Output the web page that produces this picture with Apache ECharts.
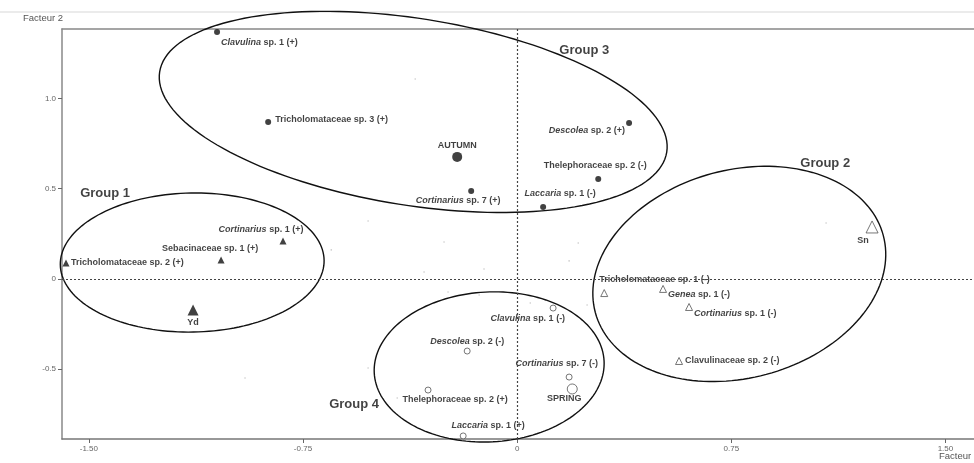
<!DOCTYPE html>
<html>
<head>
<meta charset="utf-8">
<script src="https://cdn.jsdelivr.net/npm/echarts@6/dist/echarts.min.js"></script>
<style>
  html, body { margin: 0; padding: 0; background: #fff; }
  #chart { width: 974px; height: 463px; }
</style>
</head>
<body>
<div id="chart"></div>
<script>
// axis ticks
const xTicks = [-1.5, -0.75, 0, 0.75, 1.5];
const yTicks = [-0.5, 0, 0.5, 1.0];

// Group 1 : filled triangles
const g1Names = ['Tricholomataceae sp. 2 (+)', 'Sebacinaceae sp. 1 (+)', 'Cortinarius sp. 1 (+)'];
const g1X = [-1.580, -1.037, -0.820];
const g1Y = [0.089, 0.105, 0.210];

// Group 2 : open triangles
const g2Names = ['Tricholomataceae sp. 1 (-)', 'Genea sp. 1 (-)', 'Cortinarius sp. 1 (-)', 'Clavulinaceae sp. 2 (-)'];
const g2X = [0.305, 0.511, 0.602, 0.567];
const g2Y = [-0.078, -0.055, -0.155, -0.454];

// Group 3 : filled circles
const g3Names = ['Clavulina sp. 1 (+)', 'Tricholomataceae sp. 3 (+)', 'Cortinarius sp. 7 (+)', 'Descolea sp. 2 (+)', 'Thelephoraceae sp. 2 (-)', 'Laccaria sp. 1 (-)'];
const g3X = [-1.051, -0.872, -0.161, 0.392, 0.284, 0.091];
const g3Y = [1.368, 0.869, 0.487, 0.864, 0.554, 0.399];

// Group 4 : open circles
const g4Names = ['Clavulina sp. 1 (-)', 'Descolea sp. 2 (-)', 'Cortinarius sp. 7 (-)', 'Thelephoraceae sp. 2 (+)', 'Laccaria sp. 1 (+)'];
const g4X = [0.126, -0.175, 0.182, -0.312, -0.189];
const g4Y = [-0.161, -0.399, -0.543, -0.615, -0.869];

// seasons and sites (bigger symbols)
const seasonNames = ['AUTUMN', 'SPRING'];
const seasonX = [-0.210, 0.193];
const seasonY = [0.676, -0.609];
const siteNames = ['Yd', 'Sn'];
const siteX = [-1.135, 1.243];
const siteY = [-0.172, 0.288];

// the other (unlabelled) species, tiny grey dots
const otherX = [-0.357, -0.522, -0.651, -0.256, -0.326, -0.116, 0.214, 0.182, -0.242, -0.133, 0.046, 1.082, -0.953, -0.522, 0.245, -0.420];
const otherY = [1.107, 0.321, 0.161, 0.205, 0.039, 0.055, 0.199, 0.100, -0.072, -0.089, -0.133, 0.310, -0.548, -0.493, -0.144, -0.659];

// group ellipses: centre x, centre y, half axis (x units), half axis (y units), tilt in degrees
const groupNames = ['Group 1', 'Group 2', 'Group 3', 'Group 4'];
const groupLabelX = [-1.443, 1.079, 0.235, -0.571];
const groupLabelY = [0.471, 0.642, 1.268, -0.692];
const ellCx = [-1.138, 0.778, -0.364, -0.098];
const ellCy = [0.091, 0.028, 0.925, -0.487];
const ellA = [0.462, 0.522, 0.899, 0.403];
const ellB = [0.385, 0.576, 0.517, 0.415];
const ellTilt = [1, 15, -9, 3];

// where each label sits next to its symbol: [align, dx, dy]
const labelPlace = {
  'Clavulina sp. 1 (+)': ['left', 4, 11],
  'Tricholomataceae sp. 3 (+)': ['left', 7, -3],
  'Cortinarius sp. 7 (+)': ['center', -13, 10],
  'Descolea sp. 2 (+)': ['right', -4, 8],
  'Thelephoraceae sp. 2 (-)': ['center', -3, -13],
  'Laccaria sp. 1 (-)': ['center', 17, -13],
  'Tricholomataceae sp. 2 (+)': ['left', 5, 0],
  'Sebacinaceae sp. 1 (+)': ['center', -11, -11],
  'Cortinarius sp. 1 (+)': ['center', -22, -12],
  'Tricholomataceae sp. 1 (-)': ['left', -5, -14],
  'Genea sp. 1 (-)': ['left', 5, 6],
  'Cortinarius sp. 1 (-)': ['left', 5, 7],
  'Clavulinaceae sp. 2 (-)': ['left', 6, 0],
  'Clavulina sp. 1 (-)': ['right', 12, 10],
  'Descolea sp. 2 (-)': ['center', 0, -10],
  'Cortinarius sp. 7 (-)': ['right', 29, -14],
  'Thelephoraceae sp. 2 (+)': ['center', 27, 9],
  'Laccaria sp. 1 (+)': ['center', 25, -10],
  'AUTUMN': ['center', 0, -11],
  'SPRING': ['center', -8, 10],
  'Yd': ['center', 0, 12],
  'Sn': ['center', -9, 14]
};

const FONT = '"Liberation Sans", Arial, sans-serif';

function fmtName(name) {
  const parts = name.split(' ');
  if (parts.length > 1 && !/aceae$/.test(parts[0])) {
    return '{i|' + parts[0] + '} ' + parts.slice(1).join(' ');
  }
  return name;
}

function points(names, xs, ys) {
  return names.map(function (n, i) {
    const p = labelPlace[n] || ['left', 5, 0];
    return {
      name: n,
      value: [xs[i], ys[i]],
      label: { align: p[0], offset: [p[1], p[2]] }
    };
  });
}

const labelBase = {
  show: true,
  position: 'inside',
  verticalAlign: 'middle',
  formatter: function (p) { return fmtName(p.name); },
  color: '#111',
  fontFamily: FONT,
  fontWeight: 'bold',
  fontSize: 9,
  rich: { i: { fontStyle: 'italic', fontWeight: 'bold', fontSize: 9, fontFamily: FONT, color: '#111' } }
};

const filled = { color: '#111' };
const hollow = { color: '#fff', borderColor: '#555', borderWidth: 1 };

function scatter(names, xs, ys, symbol, size, style) {
  return {
    type: 'scatter',
    symbol: symbol,
    symbolSize: size,
    itemStyle: style,
    label: labelBase,
    emphasis: { disabled: true },
    z: 4,
    data: points(names, xs, ys)
  };
}

const chart = echarts.init(document.getElementById('chart'), null, { renderer: 'canvas' });

const option = {
  animation: false,
  backgroundColor: '#fff',
  grid: { left: 62, right: 0, top: 29, bottom: 24 },
  xAxis: [{
    type: 'value',
    min: -1.594,
    max: 1.6,
    splitLine: { show: false },
    axisLine: { show: true, onZero: false, lineStyle: { color: '#777', width: 1.5 } },
    axisTick: { show: true, customValues: xTicks, length: 4, lineStyle: { color: '#666' } },
    axisLabel: {
      customValues: xTicks,
      color: '#666', fontSize: 8, fontFamily: FONT, margin: 6,
      formatter: function (v) { return v === 0 ? '0' : v.toFixed(2); }
    }
  }, {
    type: 'value',
    position: 'top',
    min: -1.594,
    max: 1.6,
    splitLine: { show: false },
    axisLine: { show: true, onZero: false, lineStyle: { color: '#888', width: 1.5 } },
    axisTick: { show: false },
    axisLabel: { show: false }
  }],
  yAxis: {
    type: 'value',
    min: -0.886,
    max: 1.384,
    splitLine: { show: false },
    axisLine: { show: true, onZero: false, lineStyle: { color: '#888', width: 1.5 } },
    axisTick: { show: true, customValues: yTicks, length: 4, lineStyle: { color: '#666' } },
    axisLabel: {
      customValues: yTicks,
      color: '#666', fontSize: 8, fontFamily: FONT, margin: 6,
      formatter: function (v) { return v === 0 ? '0' : v.toFixed(1); }
    }
  },
  graphic: [
    { type: 'line', shape: { x1: 0, y1: 12, x2: 974, y2: 12 }, style: { stroke: '#e4e4e4', lineWidth: 1.5 }, z: 0 },
    { type: 'text', left: 23, top: 13, style: { text: 'Facteur 2', fill: '#555', font: '9.5px ' + FONT } },
    { type: 'text', left: 939, top: 451, style: { text: 'Facteur 1', fill: '#555', font: '9.5px ' + FONT } }
  ],
  series: [
    {
      // zero lines and the tiny unlabelled points
      type: 'scatter',
      symbol: 'circle',
      symbolSize: 1.6,
      itemStyle: { color: '#bbb' },
      silent: true,
      z: 1,
      data: otherX.map(function (x, i) { return [x, otherY[i]]; }),
      markLine: {
        silent: true,
        symbol: ['none', 'none'],
        label: { show: false },
        lineStyle: { type: [2, 2], color: '#444', width: 1.2 },
        data: [{ xAxis: 0 }, { yAxis: 0 }]
      }
    },
    {
      type: 'custom',
      coordinateSystem: 'cartesian2d',
      silent: true,
      clip: false,
      z: 2,
      data: ellCx.map(function (cx, i) { return [cx, ellCy[i], ellA[i], ellB[i], ellTilt[i]]; }),
      encode: { x: 0, y: 1 },
      renderItem: function (params, api) {
        const c = api.coord([api.value(0), api.value(1)]);
        const a = api.size([api.value(2), 0])[0];
        const b = api.size([0, api.value(3)])[1];
        const th = api.value(4) * Math.PI / 180;
        const pts = [];
        for (let k = 0; k < 160; k++) {
          const t = k / 160 * Math.PI * 2;
          const ex = a * Math.cos(t), ey = b * Math.sin(t);
          pts.push([c[0] + ex * Math.cos(th) + ey * Math.sin(th), c[1] - ex * Math.sin(th) + ey * Math.cos(th)]);
        }
        return { type: 'polygon', shape: { points: pts }, style: { fill: 'none', stroke: '#111', lineWidth: 1.4 } };
      }
    },
    scatter(g1Names, g1X, g1Y, 'triangle', 7, filled),
    scatter(g2Names, g2X, g2Y, 'triangle', 7, hollow),
    scatter(g3Names, g3X, g3Y, 'circle', 6, filled),
    scatter(g4Names, g4X, g4Y, 'circle', 6, hollow),
    scatter(['AUTUMN'], [seasonX[0]], [seasonY[0]], 'circle', 10, filled),
    scatter(['SPRING'], [seasonX[1]], [seasonY[1]], 'circle', 10, hollow),
    scatter(['Yd'], [siteX[0]], [siteY[0]], 'triangle', 11, filled),
    scatter(['Sn'], [siteX[1]], [siteY[1]], 'triangle', 12, hollow),
    {
      type: 'scatter',
      symbolSize: 0,
      silent: true,
      z: 5,
      label: {
        show: true, position: 'inside', align: 'center', verticalAlign: 'middle',
        formatter: function (p) { return p.name; },
        color: '#111', fontFamily: FONT, fontWeight: 'bold', fontSize: 13
      },
      data: groupNames.map(function (n, i) { return { name: n, value: [groupLabelX[i], groupLabelY[i]] }; })
    }
  ]
};

chart.setOption(option);
</script>
</body>
</html>
